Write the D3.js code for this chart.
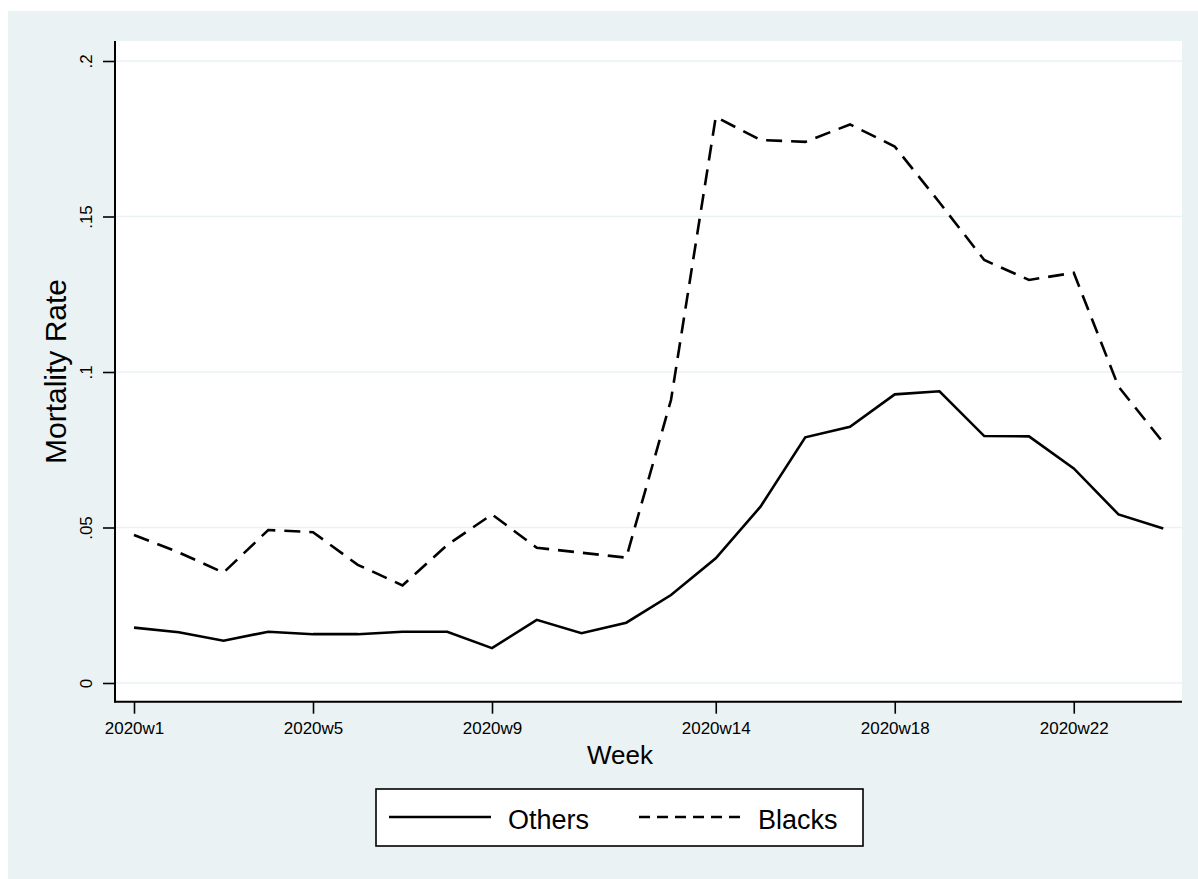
<!DOCTYPE html>
<html>
<head>
<meta charset="utf-8">
<script src="https://cdn.jsdelivr.net/npm/d3@7"></script>
<style>
  html, body { margin: 0; padding: 0; background: #ffffff; }
  svg { display: block; font-family: "Liberation Sans", Arial, sans-serif; }
</style>
</head>
<body>
<svg id="chart" width="1198" height="879"></svg>
<script>
// ---- data ----
const weeks = [1,2,3,4,5,6,7,8,9,10,11,12,13,14,15,16,17,18,19,20,21,22,23,24];
const others = [0.0178, 0.0163, 0.0136, 0.0165, 0.0157, 0.0157, 0.0165, 0.0165, 0.0112, 0.0203, 0.0160, 0.0194,
                0.0283, 0.0401, 0.0567, 0.0790, 0.0824, 0.0928, 0.0938, 0.0794, 0.0793, 0.0690, 0.0542, 0.0497];
const blacks = [0.0476, 0.0420, 0.0355, 0.0492, 0.0485, 0.0380, 0.0314, 0.0444, 0.0542, 0.0435, 0.0419, 0.0403,
                0.0910, 0.1820, 0.1746, 0.1740, 0.1796, 0.1725, 0.1545, 0.1360, 0.1296, 0.1319, 0.0953, 0.0773];
const xTickWeeks = [1, 5, 9, 14, 18, 22];
const yTicks = [0, 0.05, 0.1, 0.15, 0.2];
const seriesNames = ["Others", "Blacks"];

// ---- layout ----
const W = 1198, H = 879;
const plot = { left: 115, right: 1182, top: 41, bottom: 701.7 };
const bg = "#EAF2F3";
const FONT = "Liberation Sans, Arial, sans-serif";

const svg = d3.select("#chart");

// outer background
svg.append("rect").attr("x", 8).attr("y", 11).attr("width", W - 8).attr("height", H - 11).attr("fill", bg);
// plot region
svg.append("rect").attr("x", plot.left).attr("y", plot.top)
   .attr("width", plot.right - plot.left).attr("height", plot.bottom - plot.top).attr("fill", "#ffffff");

const x = d3.scaleLinear().domain([1, 24]).range([134, 1163.25]);
const y = d3.scaleLinear().domain([0, 0.2]).range([683, 61]);

// gridlines
svg.append("g").selectAll("line").data(yTicks).join("line")
  .attr("x1", plot.left).attr("x2", plot.right)
  .attr("y1", d => y(d)).attr("y2", d => y(d))
  .attr("stroke", bg).attr("stroke-width", 1.6);

// y axis
const fmtY = d => d === 0 ? "0" : d3.format(".2~f")(d).replace(/^0/, "");
const yAxis = svg.append("g").attr("transform", `translate(${plot.left},0)`)
  .call(d3.axisLeft(y).tickValues(yTicks).tickSize(12).tickFormat(fmtY));
yAxis.select(".domain").remove();
yAxis.selectAll(".tick line").attr("stroke", "#000").attr("stroke-width", 1.6);
yAxis.selectAll(".tick text")
  .attr("x", null).attr("dy", null)
  .attr("text-anchor", "middle")
  .attr("transform", "translate(-23,0) rotate(-90)")
  .attr("font-size", 17).attr("fill", "#000")
  .attr("font-family", FONT);

// x axis
const xAxis = svg.append("g").attr("transform", `translate(0,${plot.bottom})`)
  .call(d3.axisBottom(x).tickValues(xTickWeeks).tickSize(12).tickFormat(d => "2020w" + d));
xAxis.select(".domain").remove();
xAxis.selectAll(".tick line").attr("stroke", "#000").attr("stroke-width", 1.6);
xAxis.selectAll(".tick text")
  .attr("y", 32.5).attr("dy", null)
  .attr("font-size", 17).attr("fill", "#000")
  .attr("font-family", FONT);

// axis lines
svg.append("line").attr("x1", plot.left).attr("x2", plot.left)
  .attr("y1", plot.top).attr("y2", plot.bottom + 0.8)
  .attr("stroke", "#000").attr("stroke-width", 2);
svg.append("line").attr("x1", plot.left - 0.8).attr("x2", plot.right)
  .attr("y1", plot.bottom).attr("y2", plot.bottom)
  .attr("stroke", "#000").attr("stroke-width", 2);

// lines
const line = d3.line().x((d, i) => x(weeks[i])).y(d => y(d));
svg.append("path").datum(others).attr("d", line)
  .attr("fill", "none").attr("stroke", "#000").attr("stroke-width", 2.6)
  .attr("stroke-linejoin", "miter");
svg.append("path").datum(blacks).attr("d", line)
  .attr("fill", "none").attr("stroke", "#000").attr("stroke-width", 2.6)
  .attr("stroke-dasharray", "16,9").attr("stroke-linejoin", "miter");

// axis titles
svg.append("text").attr("x", 620).attr("y", 764).attr("text-anchor", "middle")
  .attr("font-size", 26).attr("fill", "#000").text("Week");
svg.append("text").attr("transform", "translate(66,371.5) rotate(-90)").attr("text-anchor", "middle")
  .attr("font-size", 30).attr("fill", "#000").text("Mortality Rate");

// legend
const lg = svg.append("g");
lg.append("rect").attr("x", 376).attr("y", 789).attr("width", 487).attr("height", 57)
  .attr("fill", "#fff").attr("stroke", "#000").attr("stroke-width", 1.6);
const legendItems = [
  { name: seriesNames[0], x0: 389, dash: null },
  { name: seriesNames[1], x0: 639, dash: "11,7" }
];
legendItems.forEach(it => {
  const l = lg.append("line").attr("x1", it.x0).attr("x2", it.x0 + 102)
    .attr("y1", 817).attr("y2", 817).attr("stroke", "#000").attr("stroke-width", 2.6);
  if (it.dash) l.attr("stroke-dasharray", it.dash);
  lg.append("text").attr("x", it.x0 + 119).attr("y", 828.5)
    .attr("font-size", 27).attr("fill", "#000").text(it.name);
});
</script>
</body>
</html>
